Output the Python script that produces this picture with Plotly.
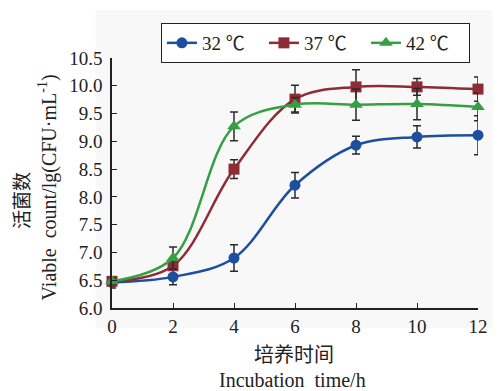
import plotly.graph_objects as go

time_h = [0, 2, 4, 6, 8, 10, 12]
v32 = [6.46, 6.56, 6.90, 8.21, 8.93, 9.08, 9.11]
e32 = [0.10, 0.14, 0.24, 0.23, 0.16, 0.20, 0.35]
v37 = [6.48, 6.76, 8.50, 9.76, 9.98, 9.98, 9.94]
e37 = [0.06, 0.08, 0.17, 0.25, 0.31, 0.15, 0.22]
v42 = [6.48, 6.90, 9.27, 9.66, 9.66, 9.67, 9.62]
e42 = [0.05, 0.20, 0.26, 0.13, 0.28, 0.28, 0.25]
names = ["32 ℃", "37 ℃", "42 ℃"]
yticks = [6.0, 6.5, 7.0, 7.5, 8.0, 8.5, 9.0, 9.5, 10.0, 10.5]
xticks = [0, 2, 4, 6, 8, 10, 12]

FONT = "'Liberation Serif', 'Noto Sans CJK SC', serif"
colors = ["#1c4f9e", "#8e2b35", "#35a042"]
symbols = ["circle", "square", "triangle-up"]
sizes = [11, 11, 12]
PAD = "\u00a0\u00a0\u00a0"

fig = go.Figure()
for name, vals, errs, c, s, sz in zip(names, [v32, v37, v42], [e32, e37, e42], colors, symbols, sizes):
    fig.add_trace(go.Scatter(
        x=time_h, y=vals, name=name + PAD, mode="lines+markers",
        line=dict(color=c, width=2.5, shape="spline", smoothing=1.0),
        marker=dict(color=c, symbol=s, size=sz),
        error_y=dict(type="data", array=errs, visible=True, color="#2a2a2a", thickness=1.5, width=4),
        cliponaxis=False,
    ))

tickfont = dict(family=FONT, size=19, color="#222")
fig.update_layout(
    width=500, height=391,
    margin=dict(l=112, r=14, t=58, b=83),
    paper_bgcolor="white", plot_bgcolor="rgba(0,0,0,0)",
    font=dict(family=FONT, size=19, color="#222"),
    showlegend=True,
    legend=dict(
        orientation="h", x=(162 - 112) / 374, y=(308 - 23) / 250, xanchor="left", yanchor="top",
        bordercolor="#222", borderwidth=1, bgcolor="white",
        font=dict(family=FONT, size=19, color="#222"),
        itemwidth=30, tracegroupgap=0,
    ),
    xaxis=dict(
        range=[0, 12], tickvals=xticks, ticktext=[str(t) for t in xticks], tickfont=tickfont,
        showline=True, linecolor="#222", linewidth=1.5, ticks="inside", ticklen=5,
        tickcolor="#222", showgrid=False, zeroline=False,
    ),
    yaxis=dict(
        range=[6.0, 10.5], tickvals=yticks, ticktext=[f"{t:.1f}" for t in yticks], tickfont=tickfont,
        showline=True, linecolor="#222", linewidth=1.5, ticks="inside", ticklen=5,
        tickcolor="#222", showgrid=False, zeroline=False, ticklabelstandoff=4,
    ),
    shapes=[dict(type="rect", xref="paper", yref="paper", x0=-0.045, x1=1.04, y0=-0.08, y1=1.19,
                 fillcolor="#f8f8f8", line=dict(width=0), layer="below")],
    annotations=[
        dict(text="活菌数", xref="paper", yref="paper", x=(20 - 112) / 374, y=(308 - 200) / 250,
             textangle=-90, showarrow=False, font=dict(family=FONT, size=19, color="#222"),
             xanchor="center", yanchor="middle"),
        dict(text="Viable\u00a0\u00a0count/lg(CFU·mL<sup>-1</sup>)", xref="paper", yref="paper",
             x=(46 - 112) / 374, y=(308 - 187) / 250, textangle=-90, showarrow=False,
             font=dict(family=FONT, size=20, color="#222"), xanchor="center", yanchor="middle"),
        dict(text="培养时间", xref="paper", yref="paper", x=(298 - 112) / 374, y=(308 - 355) / 250,
             showarrow=False, font=dict(family=FONT, size=20, color="#222"),
             xanchor="center", yanchor="middle"),
        dict(text="Incubation\u00a0\u00a0time/h", xref="paper", yref="paper", x=(296 - 112) / 374,
             y=(308 - 380) / 250, showarrow=False, font=dict(family=FONT, size=20, color="#222"),
             xanchor="center", yanchor="middle"),
    ],
)

fig.write_html("out.html")
